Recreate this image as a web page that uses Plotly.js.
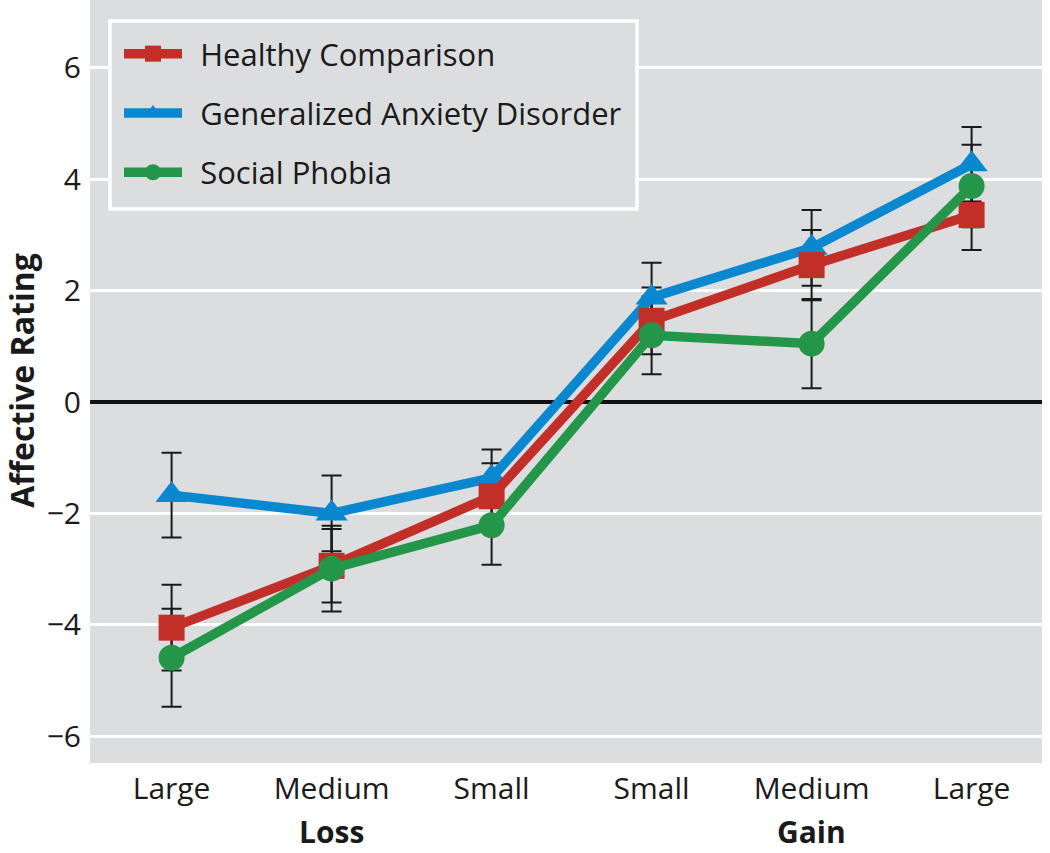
<!DOCTYPE html>
<html>
<head>
<meta charset="utf-8">
<script src="https://cdn.plot.ly/plotly-3.0.1.min.js"></script>
<style>html,body{margin:0;padding:0;background:#fff;}#chart{width:1050px;height:853px;}</style>
</head>
<body>
<div id="chart"></div>
<script>
const categories = ["Large", "Medium", "Small", "Small", "Medium", "Large"];
const positions = [0, 1, 2, 3, 4, 5];
const groupLabels = ["Loss", "Gain"];
const groupAt = [1, 4];
const seriesNames = ["Healthy Comparison", "Generalized Anxiety Disorder", "Social Phobia"];
const healthy = [-4.05, -2.94, -1.69, 1.46, 2.46, 3.36];
const healthyErr = [0.77, 0.66, 0.59, 0.60, 0.63, 0.63];
const gad = [-1.67, -2.00, -1.36, 1.88, 2.77, 4.27];
const gadErr = [0.76, 0.68, 0.51, 0.62, 0.68, 0.67];
const social = [-4.59, -2.99, -2.21, 1.20, 1.05, 3.88];
const socialErr = [0.88, 0.77, 0.71, 0.70, 0.80, 0.74];
const yTicks = [-6, -4, -2, 0, 2, 4, 6];

const colors = {hc: "#C22E28", gad: "#0A88CF", sp: "#23964A"};
const FONT = "Open Sans, Lato, sans-serif";
const INK = "#1a1a1a";

function errTrace(y, e) {
  return {
    x: positions, y: y, type: "scatter", mode: "markers",
    marker: {size: 1, color: "rgba(0,0,0,0)"},
    error_y: {type: "data", array: e, visible: true, color: INK, thickness: 2, width: 10},
    showlegend: false, hoverinfo: "skip"
  };
}
function lineTrace(y, name, color, symbol, size, rank) {
  return {
    x: positions, y: y, type: "scatter", mode: "lines+markers",
    name: "\u00A0\u2009" + name,
    legendrank: rank, legendgroup: "g" + rank,
    line: {color: color, width: 9.5},
    marker: {color: color, symbol: symbol, size: size}
  };
}

const data = [
  errTrace(gad, gadErr),
  errTrace(healthy, healthyErr),
  errTrace(social, socialErr),
  lineTrace(gad, seriesNames[1], colors.gad, "triangle-up", 28, 2),
  lineTrace(healthy, seriesNames[0], colors.hc, "square", 26, 1),
  lineTrace(social, seriesNames[2], colors.sp, "circle", 26, 3)
];

const annotations = groupLabels.map((g, i) => ({
  text: "<b>" + g + "</b>", x: groupAt[i], xref: "x", y: -(831 - 763) / 763, yref: "paper",
  yanchor: "middle", xanchor: "center", showarrow: false,
  font: {family: FONT, size: 30, color: INK}
}));
annotations.push({
  text: "<b>Affective Rating</b>", textangle: -90, xref: "paper", x: -(90 - 22) / 952, xanchor: "center",
  yref: "paper", y: 0.501, yanchor: "middle", showarrow: false,
  font: {family: FONT, size: 32, color: INK}
});

// legend frame (paper coords derived from plot area 90..1042 x 0..763)
const shapes = [{
  type: "rect", xref: "paper", yref: "paper", layer: "above",
  x0: (110 - 90) / 952, x1: (637 - 90) / 952,
  y0: 1 - 209 / 763, y1: 1 - 21 / 763,
  fillcolor: "#DCDDDF", line: {color: "#ffffff", width: 3.5}
}];

const layout = {
  width: 1050, height: 853,
  margin: {l: 90, r: 8, t: 0, b: 90},
  paper_bgcolor: "#ffffff",
  plot_bgcolor: "#DCDDDF",
  font: {family: FONT, color: INK, size: 30},
  showlegend: true,
  legend: {
    x: (119 - 90) / 952, xanchor: "left", y: 1 - 27 / 763, yanchor: "top",
    bgcolor: "rgba(0,0,0,0)", borderwidth: 0,
    font: {family: FONT, size: 31, color: INK},
    itemwidth: 58, tracegroupgap: 16, traceorder: "grouped"
  },
  xaxis: {
    range: [-0.51, 5.44], tickvals: positions, ticktext: categories,
    showgrid: false, zeroline: false, showline: false, ticks: "",
    tickfont: {family: FONT, size: 30, color: INK}, ticklabelstandoff: 5
  },
  yaxis: {
    range: [-6.48, 7.22], tickvals: yTicks,
    ticktext: yTicks.map(v => v < 0 ? "\u2212" + Math.abs(v) : String(v)),
    showgrid: true, gridcolor: "#ffffff", gridwidth: 3,
    zeroline: true, zerolinecolor: "#111111", zerolinewidth: 3.5,
    showline: false, ticks: "",
    tickfont: {family: FONT, size: 30, color: INK}, ticklabelstandoff: 8
  },
  shapes: shapes,
  annotations: annotations
};

Plotly.newPlot("chart", data, layout, {displayModeBar: false, staticPlot: true});
</script>
</body>
</html>
